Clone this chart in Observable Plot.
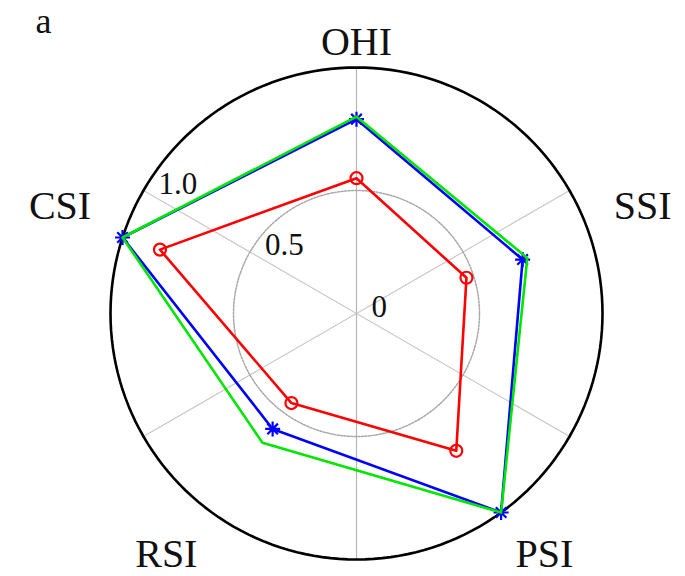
<!DOCTYPE html>
<html>
<head>
<meta charset="utf-8">
<script src="https://cdn.jsdelivr.net/npm/d3@7"></script>
<script src="https://cdn.jsdelivr.net/npm/@observablehq/plot@0.6"></script>
<style>
  body { margin: 0; background: #fff; }
</style>
</head>
<body>
<div id="chart"></div>
<script>
// Five indices around the radar, clockwise from the top
const categories = ["OHI", "SSI", "PSI", "RSI", "CSI"];

// One value per index for each of the three profiles
const redValues   = [0.55, 0.47, 0.69, 0.45, 0.84];
const blueValues  = [0.79, 0.71, 1.00, 0.58, 1.00];
const greenValues = [0.80, 0.73, 1.00, 0.65, 1.00];

// Radial ticks
const ringTicks = [0, 0.5, 1.0];
const ringTickLabels = ["0", "0.5", "1.0"];

const rad = (deg) => deg * Math.PI / 180;
// index i sits at 90° − i·72°, so the first one points straight up
const angleOf = (i) => 90 - i * 72;
const px = (v, a) => v * Math.cos(rad(a));
const py = (v, a) => v * Math.sin(rad(a));

const toRows = (values) => values.map((v, i) => ({
  axis: categories[i], value: v,
  x: px(v, angleOf(i)), y: py(v, angleOf(i))
}));
const redRows = toRows(redValues);
const blueRows = toRows(blueValues);
const greenRows = toRows(greenValues);

// circle outline at radius r
const ring = (r) => d3.range(0, 361, 2).map((a) => ({x: px(r, a), y: py(r, a)}));

// angular grid lines through the centre
const spokeAngles = [30, 90, 150];

// eight-armed asterisk marker
const asterisk8 = {
  draw(context, size) {
    const r = Math.sqrt(size / Math.PI);
    const s = r * Math.SQRT1_2;
    context.moveTo(-r, 0); context.lineTo(r, 0);
    context.moveTo(0, -r); context.lineTo(0, r);
    context.moveTo(-s, -s); context.lineTo(s, s);
    context.moveTo(-s, s); context.lineTo(s, -s);
  }
};

// index labels just outside the outer circle, anchored away from the centre
const labelRadius = 1.1;
const axisLabelMarks = categories.map((name, i) => {
  const a = angleOf(i);
  const c = Math.cos(rad(a)), s = Math.sin(rad(a));
  const textAnchor = c > 0.1 ? "start" : c < -0.1 ? "end" : "middle";
  const lineAnchor = s > 0 ? "bottom" : "top";
  const dy = s > 0.9 ? 12 : s > 0 ? -11 : 6;
  return Plot.text([name], {
    x: () => px(labelRadius, a),
    y: () => py(labelRadius, a),
    text: (d) => d,
    textAnchor, lineAnchor, dy,
    dx: c < -0.9 ? -8 : 0,
    fontSize: 40,
    fill: "#111"
  });
});

const chart = Plot.plot({
  width: 685,
  height: 576,
  marginLeft: 110,
  marginRight: 83,
  marginTop: 67,
  marginBottom: 17,
  x: {domain: [-1, 1], axis: null},
  y: {domain: [-1, 1], axis: null},
  style: {
    fontFamily: "'Liberation Serif', 'Times New Roman', serif",
    background: "#fff",
    color: "#111"
  },
  marks: [
    // grid
    Plot.link(spokeAngles, {
      x1: (a) => px(1, a), y1: (a) => py(1, a),
      x2: (a) => px(-1, a), y2: (a) => py(-1, a),
      stroke: (a) => a === 90 ? "#b5b5b5" : "#c8c8c8",
      strokeWidth: 1.2,
      strokeDasharray: (a) => a === 90 ? null : "2,2"
    }),
    Plot.line(ring(0.5), {x: "x", y: "y", stroke: "#a8a8a8", strokeWidth: 1.5, strokeDasharray: "2,1.5"}),
    Plot.line(ring(1), {x: "x", y: "y", stroke: "#000", strokeWidth: 2.6}),

    // profiles
    Plot.line(blueRows, {x: "x", y: "y", curve: "linear-closed", stroke: "#0000ff", strokeWidth: 2.6}),
    Plot.dot(blueRows, {x: "x", y: "y", symbol: asterisk8, r: 7.5, stroke: "#0000ff", fill: "none", strokeWidth: 2.2}),
    Plot.line(greenRows, {x: "x", y: "y", curve: "linear-closed", stroke: "#00e600", strokeWidth: 2.6}),
    Plot.line(redRows, {x: "x", y: "y", curve: "linear-closed", stroke: "#ff0000", strokeWidth: 2.6}),
    Plot.dot(redRows, {x: "x", y: "y", r: 6, stroke: "#ff0000", fill: "none", strokeWidth: 2.2}),

    // radial tick labels
    Plot.text(ringTicks, {
      x: (v) => px(v, 150), y: (v) => py(v, 150),
      text: (v, i) => ringTickLabels[i],
      textAnchor: "start", lineAnchor: "bottom",
      dx: 15, dy: 3, fontSize: 31, fill: "#111"
    }),

    ...axisLabelMarks,

    // panel letter
    Plot.text(["a"], {
      frameAnchor: "top-left", text: (d) => d,
      textAnchor: "start", lineAnchor: "bottom",
      dx: -75, dy: -35, fontSize: 36, fill: "#111"
    })
  ]
});

document.getElementById("chart").appendChild(chart);
</script>
</body>
</html>
